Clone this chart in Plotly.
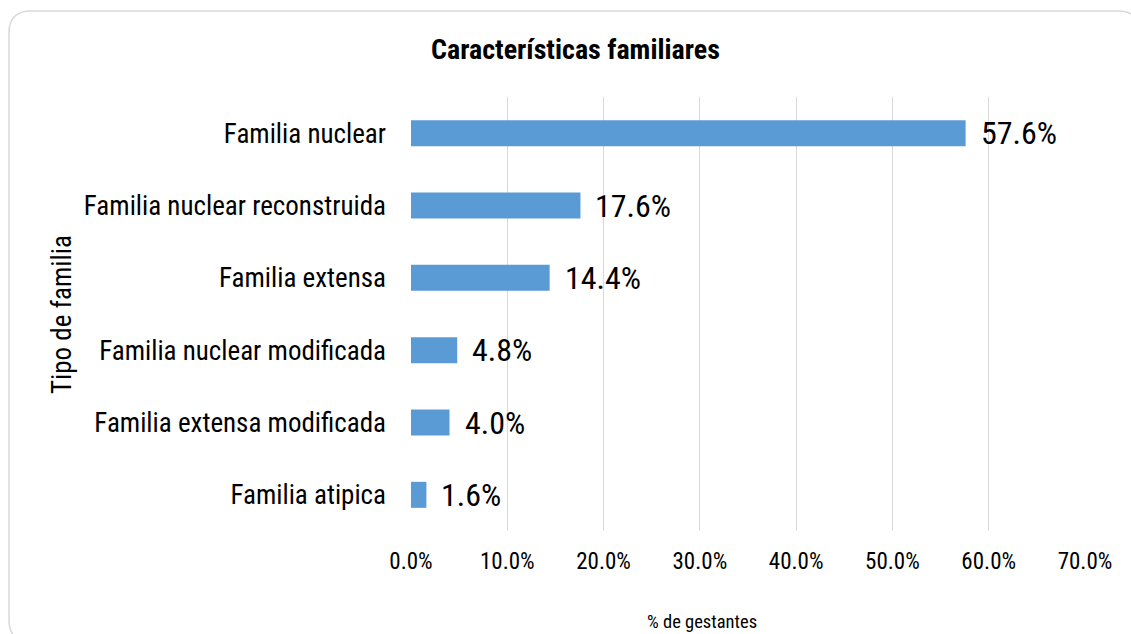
import plotly.graph_objects as go

categories = ["Familia nuclear", "Familia nuclear reconstruida", "Familia extensa",
              "Familia nuclear modificada", "Familia extensa modificada", "Familia atipica"]
values = [57.6, 17.6, 14.4, 4.8, 4.0, 1.6]
x_ticks = [0, 10, 20, 30, 40, 50, 60, 70]
x_tick_labels = ["0.0%", "10.0%", "20.0%", "30.0%", "40.0%", "50.0%", "60.0%", "70.0%"]
value_labels = ["57.6%", "17.6%", "14.4%", "4.8%", "4.0%", "1.6%"]

FONT = "Liberation Sans Narrow, Arial Narrow, Roboto Condensed, Liberation Sans, sans-serif"
W, H = 1131, 634
L, R, T, B = 411, 46, 97, 103
pw, ph = W - L - R, H - T - B

def px(xp):
    return (xp - L) / pw

def py(yp):
    return (H - B - yp) / ph

fig = go.Figure()
fig.add_trace(go.Bar(
    x=values, y=categories, orientation="h",
    marker=dict(color="#5B9BD5", line=dict(width=0)),
    width=0.36, hoverinfo="skip",
))

annotations = []
for c, v, t in zip(categories, values, value_labels):
    annotations.append(dict(x=v, y=c, xref="x", yref="y", text=t, showarrow=False,
                            xanchor="left", yanchor="middle", xshift=13,
                            font=dict(family=FONT, size=32, color="#000000")))

annotations += [
    dict(x=px(575), y=py(50), xref="paper", yref="paper", text="<b>Características familiares</b>",
         showarrow=False, xanchor="center", yanchor="middle",
         font=dict(family=FONT, size=28, color="#000000")),
    dict(x=px(702), y=py(622), xref="paper", yref="paper", text="% de gestantes",
         showarrow=False, xanchor="center", yanchor="middle",
         font=dict(family=FONT, size=18.5, color="#000000")),
    dict(x=px(62), y=py(315), xref="paper", yref="paper", text="Tipo de familia",
         showarrow=False, xanchor="center", yanchor="middle", textangle=-90,
         font=dict(family=FONT, size=27, color="#000000")),
    dict(x=px(758), y=py(-3), xref="paper", yref="paper", text="<b>g</b>",
         showarrow=False, xanchor="center", yanchor="bottom",
         font=dict(family=FONT, size=28, color="#000000")),
]

# rounded border
x0, y0, x1, y1, r = 9, 11, 1140, 642, 22
path = (f"M {px(x0)},{py(y0 + r)} Q {px(x0)},{py(y0)} {px(x0 + r)},{py(y0)} "
        f"L {px(x1 - r)},{py(y0)} Q {px(x1)},{py(y0)} {px(x1)},{py(y0 + r)} "
        f"L {px(x1)},{py(y1 - r)} Q {px(x1)},{py(y1)} {px(x1 - r)},{py(y1)} "
        f"L {px(x0 + r)},{py(y1)} Q {px(x0)},{py(y1)} {px(x0)},{py(y1 - r)} Z")

fig.update_layout(
    width=W, height=H,
    margin=dict(l=L, r=R, t=T, b=B, autoexpand=False),
    paper_bgcolor="white", plot_bgcolor="white",
    showlegend=False,
    annotations=annotations,
    shapes=[dict(type="path", path=path, xref="paper", yref="paper",
                 line=dict(color="#D9D9D9", width=1.5), layer="below")],
    xaxis=dict(range=[0, 70], tickvals=x_ticks, ticktext=x_tick_labels,
               showgrid=True, gridcolor="#D9D9D9", gridwidth=1.3, zeroline=False,
               showline=False, ticks="", ticklabelstandoff=14,
               tickfont=dict(family=FONT, size=23, color="#000000"), fixedrange=True),
    yaxis=dict(type="category", autorange="reversed", showgrid=False, zeroline=False,
               showline=False, ticks="", ticklabelstandoff=24,
               tickfont=dict(family=FONT, size=27, color="#000000"), fixedrange=True),
)

fig.write_html("out.html", config={"displayModeBar": False},
               post_script="document.body.style.margin='0';document.body.style.overflow='hidden';")
